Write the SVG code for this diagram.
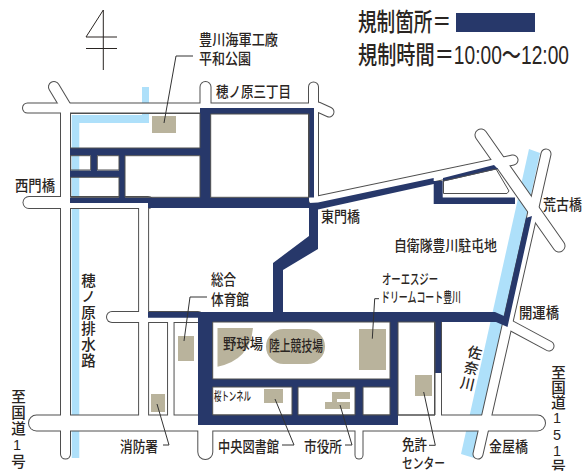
<svg xmlns="http://www.w3.org/2000/svg" width="584" height="471" viewBox="0 0 584 471">
<style>
text{font-family:"Liberation Sans","Noto Sans CJK JP",sans-serif;fill:#2a2522;font-size:15px;font-weight:500}
.big{font-size:25px}
.v{writing-mode:vertical-rl;text-orientation:upright;font-size:14.5px}
.o path{fill:none;stroke:#4f4f4f;stroke-linecap:round;stroke-linejoin:round}
.i path{fill:none;stroke:#fff;stroke-linecap:round;stroke-linejoin:round}
.o .w5{stroke-width:7.5}.i .w5{stroke-width:5.5}
.o .w6{stroke-width:8}.i .w6{stroke-width:6}
.o .w7{stroke-width:9}.i .w7{stroke-width:7}
.o .w9{stroke-width:11}.i .w9{stroke-width:9}
.o .w10{stroke-width:12}.i .w10{stroke-width:10}
.o .w11{stroke-width:13}.i .w11{stroke-width:11}
.o .w14{stroke-width:16}.i .w14{stroke-width:14}
.o .w15{stroke-width:17}.i .w15{stroke-width:15}
.navy{fill:#27386a}
.river{fill:#aee0fa}
.tan{fill:#b9b39c}
.blk{fill:none;stroke:#4f4f4f;stroke-width:1}
.lead{fill:none;stroke:#333;stroke-width:1}
</style>
<rect width="584" height="471" fill="#fff"/>
<g id="rivers">
<path class="river" d="M142,87H149V123H79.3V458H71.7V115H142Z"/>
<path class="river" d="M529,149L540,153L474,458L461,454Z"/>
</g>
<g id="roads-outline" class="o">
<path class="w9" d="M27.5,108H206"/><path class="w10" d="M205.5,87V108"/><path class="w10" d="M54,87L66,107"/>
<path class="w9" d="M313.5,87V200"/><path class="w9" d="M206,108H313"/><path class="w9" d="M318,107L329,112"/>
<path class="w9" d="M65.5,108V454"/><path class="w11" d="M29,202.5H148"/><path class="w9" d="M143.6,203V423"/>
<path class="w10" d="M112,317H198"/><path class="w5" d="M170.8,317V423"/><path class="w15" d="M36.5,423H537.5"/>
<path class="w14" d="M205.3,423V452"/><path class="w7" d="M359,423V455"/><path class="w6" d="M438,322V423"/>
<path class="w9" d="M318,201L513,160"/><path class="w11" d="M481,135L559,246"/><path class="w9" d="M546,154L478,454"/>
<path class="w9" d="M510,325L549,346"/>
</g>
<g id="roads" class="i">
<path class="w9" d="M27.5,108H206"/><path class="w10" d="M205.5,87V108"/><path class="w10" d="M54,87L66,107"/>
<path class="w9" d="M313.5,87V200"/><path class="w9" d="M206,108H313"/><path class="w9" d="M318,107L329,112"/>
<path class="w9" d="M65.5,108V454"/><path class="w11" d="M29,202.5H148"/><path class="w9" d="M143.6,203V423"/>
<path class="w10" d="M112,317H198"/><path class="w5" d="M170.8,317V423"/><path class="w15" d="M36.5,423H537.5"/>
<path class="w14" d="M205.3,423V452"/><path class="w7" d="M359,423V455"/><path class="w6" d="M438,322V423"/>
<path class="w9" d="M318,201L513,160"/><path class="w11" d="M481,135L559,246"/><path class="w9" d="M546,154L478,454"/>
<path class="w9" d="M510,325L549,346"/>
</g>
<g id="restricted">
<path class="navy" d="M200,108H314V197.5H309V114H210.7V197.5H309V208H148V203H70V197.5H119V177H70V170.5H91V155.5H70V148H200ZM97,155.5V170.5H119V155.5ZM125,155.5V197.5H200V155.5Z"/>
<path class="navy" d="M309,203L318,202.5L433.7,178V181H442.7V197.5H515V204H433.7V184L318,209.5V249L283,270V312H273V263L309,236Z"/>
<path class="navy" d="M443,178L494,165L498,169L443,181.5Z"/>
<path class="navy" d="M148,312H495L504,316L526,218L532,216L507.5,327L496,322H441V373H435V322H398V425H198V322V317.7H148ZM212.7,322V379H390V322ZM212.7,387V415H292V387ZM298,387V415H355V387ZM363,387V415H390V387Z"/>
<path class="navy" d="M456,13H535V32H456Z"/>
</g>
<g id="blocks">
<path class="blk" d="M70.5,113.5H200V148H70.5Z"/>
<path class="blk" d="M70.7,155.7H90.7V170H70.7Z"/>
<path class="blk" d="M97.3,155.7H119V170H97.3Z"/>
<path class="blk" d="M70.7,177.3H119V197.3H70.7Z"/>
<path class="blk" d="M125,155.7H200V197.3H125Z"/>
<path class="blk" d="M210.7,114H309V197.3H210.7Z"/>
<path class="blk" d="M443.5,181L496,169L509,191L507,193.5H443.5Z"/>
<path class="blk" d="M212.7,322H390V379H212.7Z"/>
<path class="blk" d="M212.7,387H292V415H212.7Z"/>
<path class="blk" d="M298,387H355V415H298Z"/>
<path class="blk" d="M363,387H390V415H363Z"/>
<path class="blk" d="M398,322H435V415H398Z"/>
</g>
<g id="facilities">
<rect class="tan" x="152" y="116" width="24" height="17"/>
<rect class="tan" x="178" y="336" width="16" height="25"/>
<rect class="tan" x="151" y="394" width="14" height="18"/>
<rect class="tan" x="264" y="389" width="19" height="14"/>
<rect class="tan" x="359" y="329" width="27" height="41"/>
<rect class="tan" x="415" y="375" width="17" height="21"/>
<path class="tan" d="M217.5,328H253Q250,360 217.5,366.7Z"/>
<rect class="tan" x="266" y="329" width="59" height="35" rx="17.5"/>
<path class="tan" d="M332,392H350V399H337V402H350V409H325V402H332Z"/>
</g>
<g id="connectors">
<path class="lead" d="M193,56H176L164,123"/>
<path class="lead" d="M207,297H190L184,341"/>
<path class="lead" d="M157,404L169,445H163"/>
<path class="lead" d="M275,399L294,445H282"/>
<path class="lead" d="M340,405L352,445H345"/>
<path class="lead" d="M423.7,392L435.3,445.3H429"/>
<path class="lead" d="M379,298.7H374.7L372.3,338.7"/>
<path d="M103.3,10V70M103.3,10L86,37H117M86,48.5H117" fill="none" stroke="#2a2522" stroke-width="1"/>
</g>
<g id="labels">
<text class="big" x="358" y="31" textLength="93" lengthAdjust="spacingAndGlyphs">規制箇所＝</text>
<text class="big" x="358" y="64" textLength="211" lengthAdjust="spacingAndGlyphs">規制時間＝10:00～12:00</text>
<text x="199" y="45" textLength="79" lengthAdjust="spacingAndGlyphs">豊川海軍工廠</text>
<text x="199" y="64" textLength="52" lengthAdjust="spacingAndGlyphs">平和公園</text>
<text x="216" y="97" textLength="75" lengthAdjust="spacingAndGlyphs">穂ノ原三丁目</text>
<text x="15" y="191" textLength="40" lengthAdjust="spacingAndGlyphs">西門橋</text>
<text x="321" y="222" textLength="39" lengthAdjust="spacingAndGlyphs">東門橋</text>
<text x="543" y="210" textLength="39" lengthAdjust="spacingAndGlyphs">荒古橋</text>
<text x="394" y="251" textLength="103" lengthAdjust="spacingAndGlyphs">自衛隊豊川駐屯地</text>
<text x="211" y="285" textLength="25" lengthAdjust="spacingAndGlyphs">総合</text>
<text x="211" y="305" textLength="38" lengthAdjust="spacingAndGlyphs">体育館</text>
<text x="382" y="284" style="font-size:14px" textLength="56" lengthAdjust="spacingAndGlyphs">オーエスジー</text>
<text x="381" y="302" style="font-size:14px" textLength="80" lengthAdjust="spacingAndGlyphs">ドリームコート豊川</text>
<text x="519" y="318" textLength="40" lengthAdjust="spacingAndGlyphs">開運橋</text>
<text x="223" y="349" textLength="40" lengthAdjust="spacingAndGlyphs">野球場</text>
<text x="269" y="351" textLength="54" lengthAdjust="spacingAndGlyphs">陸上競技場</text>
<text x="214" y="401" style="font-size:12px" textLength="37" lengthAdjust="spacingAndGlyphs">桜トンネル</text>
<text x="120" y="452" textLength="38" lengthAdjust="spacingAndGlyphs">消防署</text>
<text x="218" y="452" textLength="61" lengthAdjust="spacingAndGlyphs">中央図書館</text>
<text x="304" y="452" textLength="38" lengthAdjust="spacingAndGlyphs">市役所</text>
<text x="402" y="450" textLength="25" lengthAdjust="spacingAndGlyphs">免許</text>
<text x="402" y="468" style="font-size:14px" textLength="43" lengthAdjust="spacingAndGlyphs">センター</text>
<text x="489" y="452" textLength="39" lengthAdjust="spacingAndGlyphs">金屋橋</text>
<text class="v" x="87" y="273" style="letter-spacing:1.5px">穂ノ原排水路</text>
<text class="v" x="17" y="389" style="letter-spacing:1.5px">至国道1号</text>
<text class="v" x="557" y="365" style="letter-spacing:.5px">至国道151号</text>
<text class="v" transform="translate(475,345) rotate(13)" x="0" y="0" style="letter-spacing:1.5px">佐奈川</text>
</g>
</svg>
